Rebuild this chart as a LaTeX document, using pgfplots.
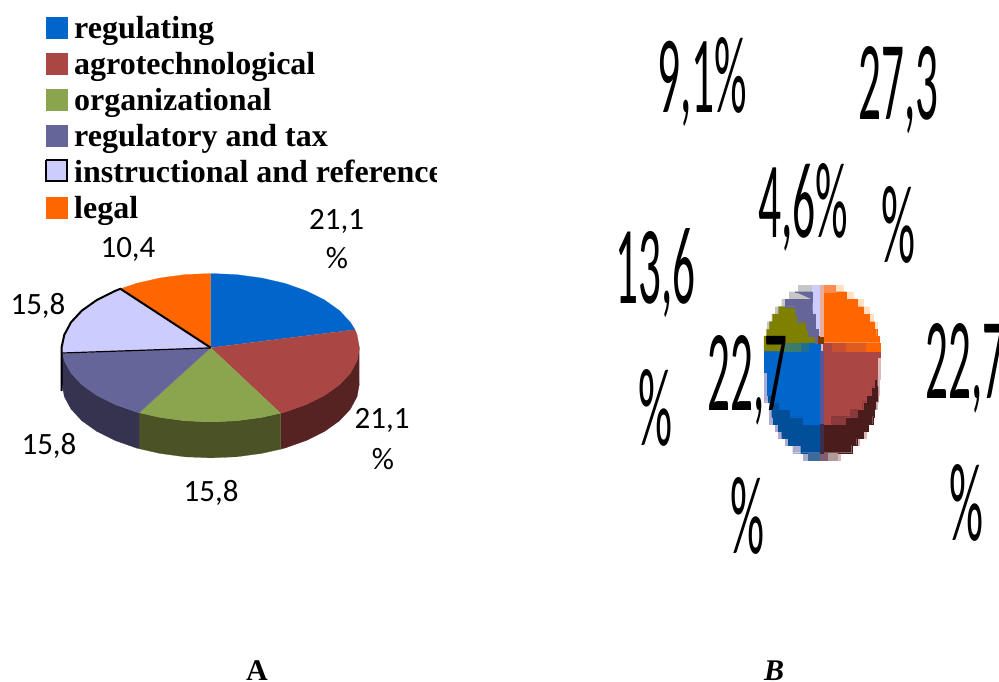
\documentclass[border=0pt]{standalone}
\usepackage{fontspec}
\usepackage{graphicx}
\usepackage{pgfplots}
\pgfplotsset{compat=1.18}
\setmainfont{Carlito}
\newfontfamily\tnr{Liberation Serif}
\definecolor{cblue}{HTML}{0066CC}
\definecolor{cred}{HTML}{AA4644}
\definecolor{cgreen}{HTML}{8AA54E}
\definecolor{cpurple}{HTML}{65659A}
\definecolor{clav}{HTML}{CCCCFF}
\definecolor{corange}{HTML}{FF6600}
\definecolor{sred}{HTML}{562222}
\definecolor{sgreen}{HTML}{4A5226}
\definecolor{spurple}{HTML}{353350}
\definecolor{colive}{HTML}{808000}
\definecolor{dblue}{HTML}{004F98}
\definecolor{dred}{HTML}{4A1C1C}
\newcommand\poly[2]{\addplot[fill=#1,draw=#1,line width=0.2pt,forget plot] coordinates {#2};}
\newcommand\lab[3]{\node[font=\fontsize{31}{31}\selectfont,inner sep=0pt,anchor=center] at (#1,#2) {#3};}
\newcommand\tall[5]{\node[inner sep=0pt,anchor=base west] at (#1,#2) {\resizebox{#3pt}{#4pt}{\fontsize{100}{100}\selectfont #5}};}
\newcommand\leg[2]{\node[font=\tnr\bfseries\fontsize{32}{32}\selectfont,inner sep=0pt,anchor=base west] at (74,#1) {#2};}
\begin{document}
\begin{tikzpicture}
\useasboundingbox (0,0) rectangle (999pt,682pt);
\begin{axis}[at={(0,0)},anchor=south west,scale only axis,width=999pt,height=682pt,
  xmin=0,xmax=999,ymin=0,ymax=682,y dir=reverse,hide axis]
% ---------- pie A: side walls
\poly{sred}{(359.4,347.7)(357.1,360.6)(350.4,373.1)(339.5,384.8)(324.6,395.4)(306.3,404.5)(285.1,412.0)(280.5,413.2)(280.5,449.2)(285.1,448.0)(306.3,440.5)(324.6,431.4)(339.5,420.8)(350.4,409.1)(357.1,396.6)(359.4,383.7)}
\poly{sgreen}{(280.5,413.2)(261.6,417.4)(236.5,420.8)(210.7,421.9)(184.9,420.8)(159.8,417.4)(139.1,412.7)(139.1,448.7)(159.8,453.4)(184.9,456.8)(210.7,457.9)(236.5,456.8)(261.6,453.4)(280.5,449.2)}
\poly{spurple}{(139.1,412.7)(136.3,412)(115.1,404.5)(96.8,395.4)(81.9,384.8)(71,373.1)(64.3,360.6)(62,347.7)(62,383.7)(64.3,396.6)(71,409.1)(81.9,420.8)(96.8,431.4)(115.1,440.5)(136.3,448)(139.1,448.7)}
% ---------- pie A: top
\poly{cblue}{(210.7,347.7)(210.7,273.5)(236.5,274.6)(261.6,278.0)(285.1,283.4)(306.3,290.9)(324.6,300.0)(339.5,310.6)(350.4,322.3)(355.0,329.7)}
\poly{cred}{(210.7,347.7)(355.0,329.7)(357.1,334.8)(359.4,347.7)(357.1,360.6)(350.4,373.1)(339.5,384.8)(324.6,395.4)(306.3,404.5)(285.1,412.0)(280.5,413.2)}
\poly{cgreen}{(210.7,347.7)(280.5,413.2)(261.6,417.4)(236.5,420.8)(210.7,421.9)(184.9,420.8)(159.8,417.4)(139.1,412.7)}
\poly{cpurple}{(210.7,347.7)(139.1,412.7)(136.3,412.0)(115.1,404.5)(96.8,395.4)(81.9,384.8)(71.0,373.1)(64.3,360.6)(62.4,353.3)}
\poly{clav}{(210.7,347.7)(62.4,353.3)(62.0,347.7)(64.3,334.8)(71.0,322.3)(81.9,310.6)(96.8,300.0)(115.1,290.9)(120.4,288.8)}
\poly{corange}{(210.7,347.7)(120.4,288.8)(136.3,283.4)(159.8,278.0)(184.9,274.6)(210.7,273.5)}
\addplot[black,line width=1.2pt,forget plot] coordinates {(210.7,347.9)(62.4,353.0)};
\addplot[black,line width=2pt,forget plot] coordinates {(61.5,391)(61.5,347.7)(64.3,334.8)(71.0,322.3)(81.9,310.6)(96.8,300.0)(115.1,290.9)(120.4,288.8)(210.7,347.7)};
% ---------- legend swatches
\poly{cblue}{(46,17)(67,17)(67,38)(46,38)}
\poly{cred}{(46,53)(67,53)(67,74)(46,74)}
\poly{cgreen}{(46,89)(67,89)(67,110)(46,110)}
\poly{cpurple}{(46,125)(67,125)(67,146)(46,146)}
\addplot[fill=clav,draw=black,line width=1.7pt,forget plot] coordinates {(46,160)(67,160)(67,181)(46,181)(46,160)};
\poly{corange}{(46,197)(67,197)(67,218)(46,218)}
% ---------- pie B: fringes
\poly{orange!25!white}{(820,285)(842.7,285)(842.7,291.7)(852.7,291.7)(852.7,299.3)(862.7,299.3)(862.7,306.7)(869.3,306.7)(869.3,314)(873.3,314)(873.3,321.7)(876.7,321.7)(876.7,329.3)(877.3,329.3)(877.3,336)(879.3,336)(879.3,342.7)(880,342.7)(820,342.7)}
\poly{gray!60!red!40!white}{(820,342.7)(880,342.7)(880,379.3)(879.3,379.3)(879.3,395)(878.3,395)(878.3,401.7)(876.7,401.7)(876.7,409.3)(874,409.3)(874,416.7)(873.3,416.7)(873.3,424)(868.3,424)(868.3,431)(866,431)(866,438.3)(859,438.3)(859,445)(851.7,445)(851.7,452.7)(840,452.7)(840,460)(820,460)}
\poly{blue!30!gray!50!white}{(820,342.7)(764,342.7)(764,401.7)(769.3,401.7)(769.3,424)(775,424)(775,431)(778.3,431)(778.3,438.3)(785,438.3)(785,445)(792.7,445)(792.7,452.7)(803.3,452.7)(803.3,460)(820,460)}
\poly{gray!45!white}{(820,285)(798.3,285)(798.3,291.7)(789.3,291.7)(789.3,299.3)(781.7,299.3)(781.7,306.7)(775,306.7)(775,314)(771.7,314)(771.7,321.7)(767.3,321.7)(767.3,329.3)(766.7,329.3)(766.7,336)(764,336)(764,342.7)(820,342.7)}
% pie B: solids
\poly{corange}{(822.7,291.7)(846,291.7)(846,299.3)(857.3,299.3)(857.3,306.7)(863.3,306.7)(863.3,314)(869.3,314)(869.3,321.7)(874,321.7)(874,329.3)(876.7,329.3)(876.7,336)(879.3,336)(879.3,342.7)(822.7,342.7)}
\definecolor{tmpa}{HTML}{FF8C4C}
\poly{tmpa}{(822.7,285)(835,285)(835,291.7)(822.7,291.7)}
\poly{dred}{(820,409.3)(874,409.3)(874,416.7)(872.7,416.7)(872.7,424)(868,424)(868,431)(863,431)(863,438.3)(856.7,438.3)(856.7,445)(851.7,445)(851.7,452.7)(820,452.7)}
\poly{dred}{(874.3,379.3)(877.3,379.3)(877.3,386.7)(878,386.7)(878,401.7)(876,401.7)(876,409.3)(862,409.3)(862,395)(871,386.7)}
\poly{cred}{(820,351)(880,351)(880,357.3)(877,357.3)(877,379.3)(874.3,379.3)(874.3,386.7)(871,386.7)(871,395)(866,395)(866,401.7)(862.7,401.7)(862.7,409.3)(850,409.3)(850,416.7)(831.7,416.7)(831.7,424)(820,424)}
\definecolor{tmpb}{HTML}{8A3A3A}
\poly{tmpb}{(850,409.3)(856.7,409.3)(856.7,416.7)(850,416.7)}
\poly{tmpb}{(831.7,416.7)(845,416.7)(845,424)(831.7,424)}
\poly{cred}{(822.7,342.7)(832,342.7)(832,351)(822.7,351)}
\definecolor{tmpc}{HTML}{C8502F}
\definecolor{tmpd}{HTML}{E05C1E}
\poly{tmpc}{(832,342.7)(846,342.7)(846,351)(832,351)}
\poly{tmpd}{(846,342.7)(866,342.7)(866,351)(846,351)}
\poly{corange}{(866,342.7)(880,342.7)(880,351)(866,351)}
\poly{dblue}{(820,395)(768,395)(768,401.7)(771.7,401.7)(771.7,416.7)(773,416.7)(773,424)(778.3,424)(778.3,431)(781.7,431)(781.7,438.3)(788.3,438.3)(788.3,445)(800.7,445)(800.7,452.7)(820,452.7)}
\poly{cblue}{(820,351)(764,351)(764,372)(767,372)(767,395)(773,395)(773,401.7)(779,401.7)(779,409.3)(790,409.3)(790,416.7)(803,416.7)(803,424)(820,424)}
\definecolor{tmpe}{HTML}{3C6A9A}
\definecolor{tmpf}{HTML}{806070}
\definecolor{tmpg}{HTML}{B09A9A}
\poly{tmpe}{(808,452.7)(820,452.7)(820,460)(808,460)}
\poly{tmpf}{(820,452.7)(828,452.7)(828,460)(820,460)}
\poly{tmpg}{(828,452.7)(837,452.7)(837,460)(828,460)}
\poly{colive}{(778.3,306.7)(812,306.7)(818,342.7)(820,351)(764,351)(764,336)(766.7,336)(766.7,329.3)(769.3,329.3)(769.3,321.7)(772.7,321.7)(772.7,314)(778.3,314)}
\definecolor{tmph}{HTML}{3C7A6C}
\definecolor{tmpi}{HTML}{1F7090}
\poly{tmph}{(785,342.7)(800.7,342.7)(800.7,351)(785,351)}
\poly{tmpi}{(800.7,342.7)(809,342.7)(809,351)(800.7,351)}
\poly{cblue}{(809,342.7)(820,342.7)(820,351)(809,351)}
\poly{clav}{(811.7,285)(820,285)(820,336)(811.7,336)}
\poly{cpurple}{(795,291.7)(812,291.7)(812,299.3)(785,299.3)(785,306.7)(795,306.7)(795,314)(797.3,314)(797.3,321.7)(806,321.7)(806,329.3)(808.3,329.3)(808.3,336)(815,336)(815,342.7)(818,342.7)(818,329.3)(815,329.3)(815,314)(812,314)(812,306.7)(812,299.3)}
\definecolor{tmpj}{HTML}{7A3A00}
\poly{tmpj}{(818,336)(822.7,336)(822.7,342.7)(818,342.7)}
\definecolor{tmpk}{HTML}{E8B09A}
\definecolor{tmpl}{HTML}{55559A}
\definecolor{tmpm}{HTML}{3E2E4E}
\poly{tmpk}{(820,285)(822.7,285)(822.7,336)(820,336)}
\poly{tmpl}{(820,351)(822.7,351)(822.7,424)(820,424)}
\poly{tmpm}{(820,424)(822.7,424)(822.7,452.7)(820,452.7)}
% ---------- text
\leg{38.5}{regulating}
\leg{74.5}{agrotechnological}
\leg{110.5}{organizational}
\leg{146.5}{regulatory and tax}
\leg{182.5}{instructional and reference}
\leg{218.5}{legal}
\fill[white] (437,150) rectangle (520,190);
\lab{336.5}{221}{21,1}
\lab{337}{258}{\%}
\lab{128}{249}{10,4}
\lab{38}{306}{15,8}
\lab{49}{446}{15,8}
\lab{211}{493}{15,8}
\lab{382}{420}{21,1}
\lab{383}{459}{\%}
\tall{657}{113}{90}{75}{9,1\%}
\tall{858}{120}{80}{73}{27,3}
\tall{881}{262}{34}{76}{\%}
\tall{758}{237}{90}{74}{4,6\%}
\tall{615}{303}{80}{75}{13,6}
\tall{638}{445}{34}{76}{\%}
\tall{707}{410}{80}{75}{22,7}
\tall{730}{553}{34}{76}{\%}
\tall{925}{398}{80}{75}{22,7}
\tall{949}{540}{34}{76}{\%}
\node[font=\tnr\bfseries\fontsize{30}{30}\selectfont,inner sep=0pt,anchor=base] at (257,680.5) {A};
\node[font=\tnr\bfseries\itshape\fontsize{30}{30}\selectfont,inner sep=0pt,anchor=base] at (774,680.5) {B};
\end{axis}
\end{tikzpicture}
\end{document}
